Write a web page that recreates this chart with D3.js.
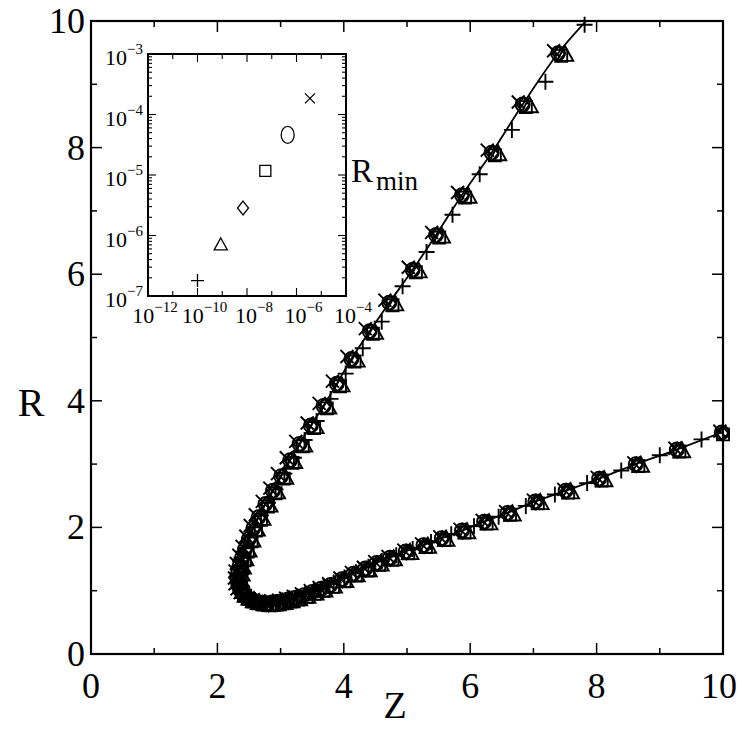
<!DOCTYPE html>
<html><head><meta charset="utf-8">
<script src="https://cdn.jsdelivr.net/npm/d3@7"></script>
<style>body{margin:0;background:#fff}svg{display:block} text{font-family:"Liberation Serif","Times New Roman",Times,serif;}</style>
</head><body>
<script>
// ---------- data ----------
const xTicks = [0, 2, 4, 6, 8, 10];
const yTicks = [0, 2, 4, 6, 8, 10];
const xMinor = [1, 3, 5, 7, 9];
const yMinor = [1, 3, 5, 7, 9];

// theory curve (Z, R)
const curve = [[7.88,10.05],[7.39,9.49],[6.83,8.68],[6.34,7.92],[5.87,7.25],[5.46,6.62],[5.09,6.07],[4.72,5.55],[4.41,5.10],[4.12,4.66],[3.89,4.27],[3.68,3.92],[3.48,3.61],[3.30,3.32],[3.15,3.06],[3.01,2.81],[2.88,2.58],[2.76,2.37],[2.65,2.16],[2.57,1.99],[2.50,1.82],[2.44,1.66],[2.39,1.52],[2.35,1.39],[2.33,1.28],[2.32,1.18],[2.33,1.09],[2.36,1.01],[2.40,0.95],[2.46,0.90],[2.53,0.86],[2.61,0.83],[2.70,0.81],[2.80,0.80],[2.90,0.81],[3.01,0.83],[3.12,0.86],[3.24,0.89],[3.37,0.93],[3.50,0.98],[3.64,1.03],[3.79,1.09],[3.97,1.18],[4.15,1.27],[4.34,1.35],[4.52,1.44],[4.73,1.52],[4.98,1.62],[5.26,1.72],[5.55,1.83],[5.87,1.95],[6.22,2.09],[6.59,2.23],[7.03,2.41],[7.51,2.58],[8.04,2.77],[8.62,3.00],[9.27,3.23],[10.0,3.51]];

const circlePts = [[7.39,9.49],[6.83,8.68],[6.34,7.92],[5.87,7.25],[5.46,6.62],[5.09,6.07],[4.72,5.55],[4.41,5.10],[4.12,4.66],[3.89,4.27],[3.68,3.92],[3.48,3.61],[3.30,3.32],[3.15,3.06],[3.01,2.81],[2.88,2.58],[2.76,2.37],[2.65,2.16],[2.57,1.99],[2.50,1.82],[2.44,1.66],[2.39,1.52],[2.35,1.39],[2.33,1.28],[2.32,1.18],[2.33,1.09],[2.36,1.01],[2.40,0.95],[2.46,0.90],[2.53,0.86],[2.61,0.83],[2.70,0.81],[2.80,0.80],[2.90,0.81],[3.01,0.83],[3.12,0.86],[3.24,0.89],[3.37,0.93],[3.50,0.98],[3.64,1.03],[3.79,1.09],[3.97,1.18],[4.15,1.27],[4.34,1.35],[4.52,1.44],[4.73,1.52],[4.98,1.62],[5.26,1.72],[5.55,1.83],[5.87,1.95],[6.22,2.09],[6.59,2.23],[7.03,2.41],[7.51,2.58],[8.04,2.77],[8.62,3.00],[9.27,3.23],[9.98,3.50]];

const diamondPts = [[7.40,9.48],[6.84,8.67],[6.35,7.91],[5.88,7.24],[5.47,6.61],[5.10,6.06],[4.73,5.54],[4.42,5.09],[4.13,4.65],[3.90,4.26],[3.69,3.91],[3.49,3.60],[3.31,3.31],[3.16,3.05],[3.02,2.80],[2.89,2.57],[2.77,2.36],[2.66,2.15],[2.58,1.98],[2.51,1.81],[2.45,1.65],[2.40,1.51],[2.36,1.38],[2.34,1.27],[2.33,1.17],[2.34,1.08],[2.37,1.00],[2.41,0.94],[2.47,0.89],[2.54,0.85],[2.62,0.82],[2.71,0.80],[2.81,0.79],[2.91,0.80],[3.02,0.82],[3.13,0.85],[3.25,0.88],[3.38,0.92],[3.51,0.97],[3.65,1.02],[3.80,1.08],[3.98,1.17],[4.16,1.26],[4.35,1.34],[4.53,1.43],[4.74,1.51],[4.99,1.61],[5.27,1.71],[5.56,1.82],[5.88,1.94],[6.23,2.08],[6.60,2.22],[7.04,2.40],[7.52,2.57],[8.05,2.76],[8.63,2.99],[9.28,3.22],[9.99,3.49]];

const squarePts = [[7.44,9.45],[6.88,8.64],[6.39,7.88],[5.92,7.21],[5.51,6.58],[5.14,6.03],[4.77,5.51],[4.46,5.06],[4.17,4.62],[3.94,4.23],[3.73,3.88],[3.53,3.57],[3.35,3.28],[3.19,3.02],[3.05,2.77],[2.92,2.54],[2.80,2.33],[2.69,2.12],[2.61,1.95],[2.54,1.78],[2.48,1.62],[2.43,1.48],[2.39,1.35],[2.37,1.24],[2.36,1.14],[2.37,1.05],[2.40,0.98],[2.44,0.92],[2.50,0.87],[2.57,0.83],[2.65,0.80],[2.74,0.78],[2.84,0.77],[2.94,0.78],[3.05,0.80],[3.16,0.83],[3.28,0.86],[3.41,0.90],[3.54,0.95],[3.68,1.00],[3.83,1.06],[4.01,1.15],[4.19,1.24],[4.38,1.32],[4.56,1.41],[4.77,1.49],[5.02,1.59],[5.30,1.69],[5.59,1.80],[5.91,1.92],[6.26,2.06],[6.63,2.20],[7.07,2.38],[7.55,2.55],[8.08,2.74],[8.66,2.97],[9.31,3.20],[10.0,3.47]];

const trianglePts = [[7.50,9.47],[6.94,8.66],[6.44,7.90],[5.97,7.23],[5.55,6.60],[5.18,6.05],[4.81,5.53],[4.49,5.08],[4.20,4.64],[3.96,4.25],[3.75,3.90],[3.55,3.59],[3.37,3.30],[3.21,3.04],[3.07,2.79],[2.94,2.56],[2.82,2.35],[2.71,2.14],[2.62,1.97],[2.55,1.80],[2.49,1.64],[2.44,1.50],[2.40,1.37],[2.38,1.26],[2.37,1.16],[2.38,1.07],[2.41,0.99],[2.45,0.93],[2.51,0.88],[2.58,0.84],[2.66,0.81],[2.75,0.79],[2.85,0.78],[2.95,0.79],[3.06,0.81],[3.17,0.84],[3.29,0.87],[3.42,0.91],[3.55,0.96],[3.69,1.01],[3.84,1.07],[4.02,1.16],[4.20,1.25],[4.39,1.33],[4.58,1.42],[4.79,1.50],[5.05,1.60],[5.33,1.70],[5.62,1.81],[5.95,1.93],[6.30,2.07],[6.67,2.21],[7.11,2.39],[7.59,2.56],[8.12,2.75],[8.70,2.98],[9.35,3.21]];

const crossPts = [[7.32,9.53],[6.76,8.72],[6.27,7.96],[5.80,7.29],[5.39,6.66],[5.02,6.11],[4.65,5.59],[4.34,5.14],[4.05,4.70],[3.82,4.31],[3.61,3.96],[3.42,3.65],[3.24,3.36],[3.09,3.10],[2.95,2.85],[2.83,2.62],[2.71,2.41],[2.60,2.20],[2.52,2.03],[2.45,1.86],[2.39,1.70],[2.34,1.56],[2.30,1.43],[2.28,1.31],[2.27,1.20],[2.28,1.11],[2.31,1.03],[2.36,0.97],[2.42,0.92],[2.49,0.88],[2.57,0.85],[2.66,0.83],[2.76,0.82],[2.86,0.83],[2.97,0.85],[3.08,0.88],[3.20,0.91],[3.33,0.95],[3.47,1.00],[3.61,1.05],[3.76,1.11],[3.94,1.20],[4.12,1.29],[4.31,1.37],[4.49,1.46],[4.70,1.54],[4.95,1.64],[5.23,1.74],[5.52,1.85],[5.84,1.97],[6.19,2.11],[6.56,2.25],[7.00,2.43],[7.48,2.60],[8.01,2.79],[8.59,3.02],[9.24,3.25],[9.95,3.52]];

const plusPts = [[7.81,9.94],[7.19,9.04],[6.66,8.28],[6.15,7.58],[5.72,6.94],[5.31,6.35],[4.93,5.81],[4.60,5.25],[4.30,4.83],[4.03,4.43],[3.79,4.03],[3.57,3.68],[3.38,3.38],[3.21,3.10],[3.06,2.85],[2.92,2.60],[2.80,2.39],[2.69,2.19],[2.59,2.00],[2.51,1.84],[2.44,1.67],[2.38,1.52],[2.34,1.38],[2.32,1.25],[2.32,1.14],[2.35,1.03],[2.40,0.95],[2.47,0.89],[2.56,0.84],[2.65,0.82],[2.74,0.81],[2.83,0.81],[2.93,0.82],[3.03,0.85],[3.14,0.88],[3.26,0.91],[3.39,0.95],[3.53,1.00],[3.68,1.06],[3.84,1.13],[4.01,1.21],[4.19,1.29],[4.39,1.38],[4.60,1.47],[4.83,1.56],[5.09,1.66],[5.38,1.77],[5.70,1.89],[6.06,2.02],[6.45,2.17],[6.88,2.34],[7.34,2.52],[7.85,2.70],[8.39,2.90],[9.00,3.14],[9.66,3.39]];

// inset: Rmin vs parameter (log-log)
const insetXTicks = [1e-12, 1e-10, 1e-8, 1e-6, 1e-4];
const insetXTickExp = ["-12", "-10", "-8", "-6", "-4"];
const insetYTicks = [1e-7, 1e-6, 1e-5, 1e-4, 1e-3];
const insetYTickExp = ["-7", "-6", "-5", "-4", "-3"];
const insetPts = [
  {sym: "plus",     x: 1.0e-10, y: 1.8e-7},
  {sym: "triangle", x: 8.7e-10, y: 7.0e-7},
  {sym: "diamond",  x: 6.9e-9,  y: 2.85e-6},
  {sym: "square",   x: 5.5e-8,  y: 1.17e-5},
  {sym: "circle",   x: 4.4e-7,  y: 4.6e-5},
  {sym: "cross",    x: 3.5e-6,  y: 1.85e-4}
];

// ---------- drawing ----------
const W = 742, H = 729;
const FONT = "Liberation Serif, Times New Roman, Times, serif";
const svg = d3.select("body").append("svg").attr("width", W).attr("height", H)
  .attr("font-family", FONT);

const X = d3.scaleLinear().domain([0, 10]).range([91, 723]);
const Y = d3.scaleLinear().domain([0, 10]).range([654, 21]);

svg.append("defs").append("clipPath").attr("id", "clipMain")
  .append("rect").attr("x", 91).attr("y", 21).attr("width", 632).attr("height", 633);

function symPath(sym, s) {
  switch (sym) {
    case "circle": return null;
    case "square": return `M${-s},${-s}H${s}V${s}H${-s}Z`;
    case "diamond": return `M0,${-s*1.25}L${s},0L0,${s*1.25}L${-s},0Z`;
    case "triangle": return `M0,${-s*1.15}L${s*1.1},${s*0.85}L${-s*1.1},${s*0.85}Z`;
    case "plus": return `M${-s},0H${s}M0,${-s}V${s}`;
    case "cross": return `M${-s},${-s}L${s},${s}M${s},${-s}L${-s},${s}`;
  }
}

const plotG = svg.append("g").attr("clip-path", "url(#clipMain)");
plotG.append("path").datum(curve)
  .attr("d", d3.line().x(d => X(d[0])).y(d => Y(d[1])).curve(d3.curveCatmullRom))
  .attr("fill", "none").attr("stroke", "#000").attr("stroke-width", 1.8);

const SW = 1.9;
function drawSeries(data, sym, s) {
  const g = svg.append("g");
  if (sym === "circle") {
    g.selectAll("circle").data(data).join("circle")
      .attr("cx", d => X(d[0])).attr("cy", d => Y(d[1])).attr("r", s)
      .attr("fill", "none").attr("stroke", "#000").attr("stroke-width", SW);
  } else {
    g.selectAll("path").data(data).join("path")
      .attr("transform", d => `translate(${X(d[0])},${Y(d[1])})`)
      .attr("d", symPath(sym, s))
      .attr("fill", "none").attr("stroke", "#000").attr("stroke-width", SW);
  }
}
drawSeries(plusPts, "plus", 8);
drawSeries(crossPts, "cross", 6.5);
drawSeries(trianglePts, "triangle", 7.5);
drawSeries(squarePts, "square", 6);
drawSeries(diamondPts, "diamond", 6);
drawSeries(circlePts, "circle", 7);

// frame and ticks
svg.append("rect").attr("x", 91).attr("y", 21).attr("width", 632).attr("height", 633)
  .attr("fill", "none").attr("stroke", "#000").attr("stroke-width", 2.2);
const tk = svg.append("g").attr("stroke", "#000").attr("stroke-width", 1.5);
xTicks.forEach(v => {
  tk.append("line").attr("x1", X(v)).attr("x2", X(v)).attr("y1", 654).attr("y2", 643);
  tk.append("line").attr("x1", X(v)).attr("x2", X(v)).attr("y1", 21).attr("y2", 32);
});
xMinor.forEach(v => {
  tk.append("line").attr("x1", X(v)).attr("x2", X(v)).attr("y1", 654).attr("y2", 648);
  tk.append("line").attr("x1", X(v)).attr("x2", X(v)).attr("y1", 21).attr("y2", 27);
});
yTicks.forEach(v => {
  tk.append("line").attr("y1", Y(v)).attr("y2", Y(v)).attr("x1", 91).attr("x2", 102);
  tk.append("line").attr("y1", Y(v)).attr("y2", Y(v)).attr("x1", 723).attr("x2", 712);
});
yMinor.forEach(v => {
  tk.append("line").attr("y1", Y(v)).attr("y2", Y(v)).attr("x1", 91).attr("x2", 97);
  tk.append("line").attr("y1", Y(v)).attr("y2", Y(v)).attr("x1", 723).attr("x2", 717);
});

// tick labels
xTicks.forEach(v => {
  svg.append("text").attr("x", X(v) - (v === 10 ? 4 : 0)).attr("y", 698).attr("text-anchor", "middle")
    .attr("font-family", FONT).attr("font-size", 36).text(v);
});
yTicks.forEach(v => {
  svg.append("text").attr("x", 85).attr("y", Y(v) + 12).attr("text-anchor", "end")
    .attr("font-family", FONT).attr("font-size", 36).text(v);
});
svg.append("text").attr("x", 395).attr("y", 718).attr("text-anchor", "middle")
  .attr("font-family", FONT).attr("font-size", 38).text("Z");
svg.append("text").attr("x", 31).attr("y", 416).attr("text-anchor", "middle")
  .attr("font-family", FONT).attr("font-size", 40).text("R");

// ---------- inset ----------
const IX = d3.scaleLog().domain([1e-12, 1e-4]).range([148, 346]);
const IY = d3.scaleLog().domain([1e-7, 1e-3]).range([296, 54]);
const ig = svg.append("g");
ig.append("rect").attr("x", 148).attr("y", 54).attr("width", 198).attr("height", 242)
  .attr("fill", "#fff").attr("stroke", "#000").attr("stroke-width", 2);
const itk = ig.append("g").attr("stroke", "#000").attr("stroke-width", 1.1);
for (let e = -12; e <= -4; e++) {
  const major = (e % 2 === 0);
  const L = major ? 8 : 5;
  itk.append("line").attr("x1", IX(Math.pow(10, e))).attr("x2", IX(Math.pow(10, e))).attr("y1", 296).attr("y2", 296 - L);
  itk.append("line").attr("x1", IX(Math.pow(10, e))).attr("x2", IX(Math.pow(10, e))).attr("y1", 54).attr("y2", 54 + L);
}
for (let e = -7; e <= -3; e++) {
  itk.append("line").attr("y1", IY(Math.pow(10, e))).attr("y2", IY(Math.pow(10, e))).attr("x1", 148).attr("x2", 156);
  itk.append("line").attr("y1", IY(Math.pow(10, e))).attr("y2", IY(Math.pow(10, e))).attr("x1", 346).attr("x2", 338);
  if (e < -3) for (let k = 2; k <= 9; k++) {
    const v = k * Math.pow(10, e);
    itk.append("line").attr("y1", IY(v)).attr("y2", IY(v)).attr("x1", 148).attr("x2", 152);
    itk.append("line").attr("y1", IY(v)).attr("y2", IY(v)).attr("x1", 346).attr("x2", 342);
  }
}
insetXTicks.forEach((v, i) => {
  const t = ig.append("text").attr("x", IX(v) + 7).attr("y", 323).attr("text-anchor", "middle")
    .attr("font-family", FONT).attr("font-size", 22);
  t.append("tspan").text("10");
  t.append("tspan").attr("dy", -11).attr("font-size", 15).text("\u2212" + insetXTickExp[i].slice(1));
});
insetYTicks.forEach((v, i) => {
  const t = ig.append("text").attr("x", 143).attr("y", IY(v) + 11).attr("text-anchor", "end")
    .attr("font-family", FONT).attr("font-size", 22);
  t.append("tspan").text("10");
  t.append("tspan").attr("dy", -11).attr("font-size", 15).text("\u2212" + insetYTickExp[i].slice(1));
});
insetPts.forEach(p => {
  const cx = IX(p.x), cy = IY(p.y);
  if (p.sym === "circle") {
    ig.append("ellipse").attr("cx", cx).attr("cy", cy).attr("rx", 6.5).attr("ry", 8.5)
      .attr("fill", "none").attr("stroke", "#000").attr("stroke-width", 1.3);
  } else {
    const s = {plus: 6.5, triangle: 6, diamond: 5.5, square: 5.5, cross: 5}[p.sym];
    ig.append("path").attr("transform", `translate(${cx},${cy})`).attr("d", symPath(p.sym, s))
      .attr("fill", "none").attr("stroke", "#000").attr("stroke-width", 1.3);
  }
});
const rl = svg.append("text").attr("x", 351).attr("y", 182).attr("font-family", FONT).attr("font-size", 33);
rl.append("tspan").text("R");
rl.append("tspan").attr("dx", 3).attr("dy", 8).attr("font-size", 27).text("min");
</script>
</body></html>
